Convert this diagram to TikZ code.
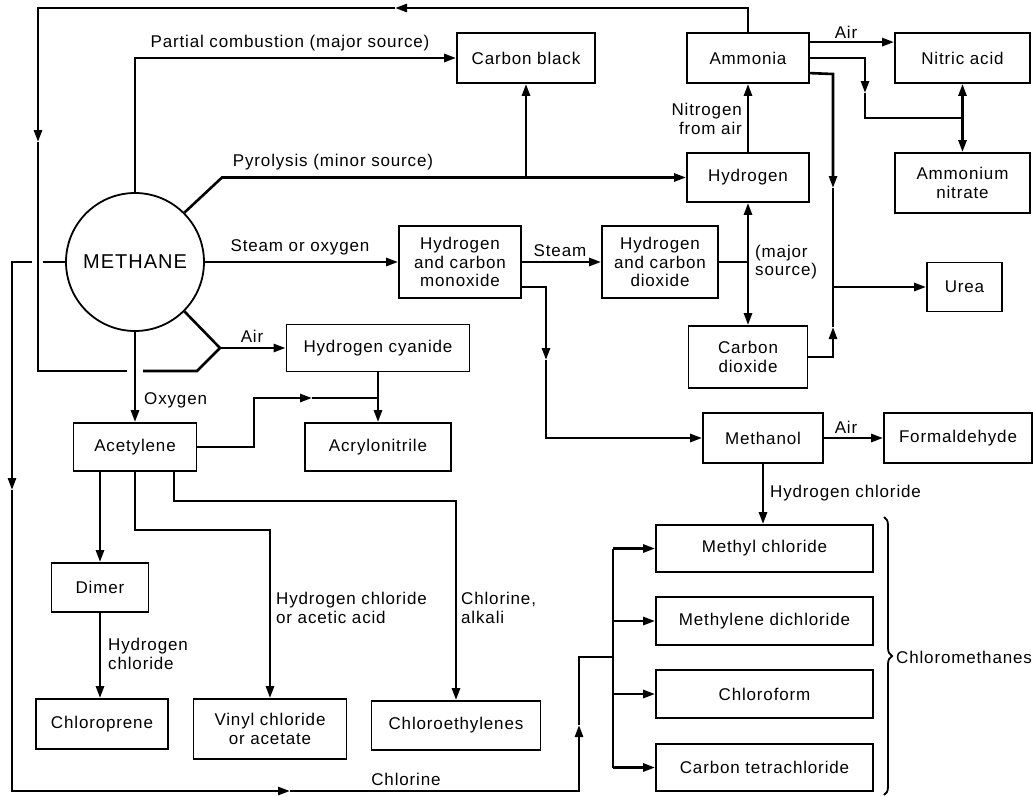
\documentclass[tikz,border=0pt]{standalone}
\usepackage{fontspec}
\setmainfont{Liberation Sans}[LetterSpace=5]
\usetikzlibrary{arrows.meta,decorations.pathreplacing,calc}
\begin{document}
\begin{tikzpicture}[x=1pt,y=-1pt,
  every node/.style={font=\fontsize{17}{18.5}\selectfont},
  box/.style={draw,line width=1.8pt,align=center,inner sep=0pt},
  ln/.style={line width=2.6pt},
  tip/.tip={Triangle[length=12pt,width=8pt]},
  arr/.style={ln,-tip},
  dbl/.style={ln,tip-tip},
  lbl/.style={align=left,inner sep=0pt}]
\useasboundingbox[fill=white] (0,0) rectangle (1033,796);

% ---------- nodes ----------
\node[draw,circle,line width=1.8pt,minimum size=138pt,inner sep=0pt,font=\fontsize{20}{22}\selectfont] (methane) at (135,262) {METHANE};
\node[box,minimum width=138pt,minimum height=50pt] (cb) at (526,58) {Carbon black};
\node[box,minimum width=122pt,minimum height=50pt] (amm) at (748,58) {Ammonia};
\node[box,minimum width=135pt,minimum height=50pt] (nit) at (962.5,58) {Nitric acid};
\node[box,minimum width=122pt,minimum height=49pt] (hyd) at (748,177.5) {Hydrogen};
\node[box,minimum width=135pt,minimum height=60pt] (an) at (962.5,183) {Ammonium\\nitrate};
\node[box,minimum width=122pt,minimum height=72pt] (hco) at (460,262) {Hydrogen\\and carbon\\monoxide};
\node[box,minimum width=116pt,minimum height=72pt] (hcd) at (660,262) {Hydrogen\\and carbon\\dioxide};
\node[box,minimum width=75pt,minimum height=49pt] (urea) at (964.5,287) {Urea};
\node[box,minimum width=119pt,minimum height=62pt] (co2) at (748,357) {Carbon\\dioxide};
\node[box,minimum width=183pt,minimum height=47pt] (hcn) at (378,348) {Hydrogen cyanide};
\node[box,minimum width=123pt,minimum height=48pt] (ace) at (135,447) {Acetylene};
\node[box,minimum width=146pt,minimum height=48pt] (acr) at (378,447) {Acrylonitrile};
\node[box,minimum width=120pt,minimum height=50pt] (meoh) at (763,438) {Methanol};
\node[box,minimum width=148pt,minimum height=50pt] (form) at (958,438) {Formaldehyde};
\node[box,minimum width=217pt,minimum height=47pt] (mecl) at (764.5,548.5) {Methyl chloride};
\node[box,minimum width=217pt,minimum height=48pt] (dcm) at (764.5,621) {Methylene dichloride};
\node[box,minimum width=217pt,minimum height=48pt] (chcl) at (764.5,694) {Chloroform};
\node[box,minimum width=217pt,minimum height=47pt] (ccl) at (764.5,767.5) {Carbon tetrachloride};
\node[box,minimum width=97pt,minimum height=49pt] (dimer) at (100,587.5) {Dimer};
\node[box,minimum width=132pt,minimum height=50pt] (cp) at (102,724) {Chloroprene};
\node[box,minimum width=153pt,minimum height=60pt] (vinyl) at (270,729) {Vinyl chloride\\or acetate};
\node[box,minimum width=169pt,minimum height=49pt] (ce) at (456,725.5) {Chloroethylenes};

% ---------- coordinates ----------
\coordinate (tA) at (748,8);
\coordinate (tArr) at (395,8);
\coordinate (tL) at (38,8);
\coordinate (lArr) at (38,142);
\coordinate (lB) at (38,371);
\coordinate (g1) at (127,371);
\coordinate (g2) at (143,371);
\coordinate (lC) at (197,371);
\coordinate (J) at (220,348);
\coordinate (py1) at (222,177.5);
\coordinate (ms) at (748,262);
\coordinate (n1) at (865,58);
\coordinate (n2) at (865,93);
\coordinate (n3) at (865,118);
\coordinate (u1) at (833,74);
\coordinate (u2) at (833,188);
\coordinate (u3) at (833,287);
\coordinate (u4) at (833,327);
\coordinate (u5) at (833,357);
\coordinate (m1) at (546,287);
\coordinate (m2) at (546,360);
\coordinate (m3) at (546,438);
\coordinate (bx) at (613,657);
\coordinate (c0) at (43,262);
\coordinate (c1) at (32,262);
\coordinate (c2) at (12,262);
\coordinate (c3) at (12,490);
\coordinate (c4) at (12,791);
\coordinate (c5) at (290,791);
\coordinate (c6) at (579,791);
\coordinate (c7) at (579,725);
\coordinate (c8) at (579,657);
\coordinate (a1) at (254,447);
\coordinate (a2) at (254,398);
\coordinate (a3) at (312,398);
\coordinate (v1) at (135,530);
\coordinate (e1) at (174,501);
\coordinate (br1) at (884,517);
\coordinate (br2) at (884,795);

% ---------- connectors ----------
% ammonia loop back to HCN
\draw[arr] (amm.north) -- (tA) -- (tArr);
\draw[arr] (tArr) -- (tL) -- (lArr);
\draw[ln] (lArr) -- (lB) -- (g1);
\draw[ln] (g2) -- (lC) -- (J);
\draw[ln] (methane.-45) -- (J);
\draw[arr] (J) -- (hcn.west);
\node[lbl] (airhcn) at (252,336) {Air};

% partial combustion
\draw[arr] (methane.north) -- (methane.north |- cb.west) -- (cb.west);
\node[lbl] (pclbl) at (290,43) {Partial combustion (major source)};

% pyrolysis
\draw[arr] (methane.45) -- (py1) -- (hyd.west);
\draw[arr] (cb.south |- hyd.west) -- (cb.south);
\node[lbl] (pylbl) at (333,162) {Pyrolysis (minor source)};

% steam or oxygen
\draw[arr] (methane.east) -- (hco.west);
\node[lbl] (solbl) at (300,247) {Steam or oxygen};
\draw[arr] (hco.east) -- (hcd.west);
\node[lbl] (stlbl) at (560,251) {Steam};
\draw[ln] (hcd.east) -- (ms);
\draw[dbl] (hyd.south) -- (co2.north);
\node[lbl,anchor=west] (majlbl) at (755,262) {(major\\source)};

% hydrogen -> ammonia
\draw[arr] (hyd.north) -- (amm.south);
\node[lbl,anchor=east,align=right] (nalbl) at (742,119) {Nitrogen\\from air};

% ammonia -> nitric acid
\draw[arr] ([yshift=-10pt]amm.north east) -- ([yshift=-10pt]nit.north west);
\node[lbl] (airnit) at (846,32) {Air};

% ammonia + nitric acid -> ammonium nitrate
\draw[arr] (amm.east) -- (n1) -- (n2);
\draw[ln] (n2) -- (n3) -- (nit.south |- n3);
\draw[arr] (nit.south |- n3) -- (nit.south);
\draw[arr] (nit.south |- n3) -- (an.north);

% ammonia + CO2 -> urea
\draw[arr] ([yshift=-41pt]amm.north east) -- (u1) -- (u2);
\draw[ln] (u2) -- (u3);
\draw[arr] (u3) -- (urea.west);
\draw[arr] (co2.east) -- (u5) -- (u4);
\draw[ln] (u4) -- (u3);

% synthesis gas -> methanol
\draw[arr] (hco.east |- m1) -- (m1) -- (m2);
\draw[arr] (m2) -- (m3) -- (meoh.west);
\draw[arr] (meoh.east) -- (form.west);
\node[lbl] (airform) at (846,427) {Air};
\draw[arr] (meoh.south) -- (meoh.south |- mecl.north);
\node[lbl,anchor=west] (hcllbl) at (770,493) {Hydrogen chloride};

% chloromethanes bus
\draw[ln] (bx |- mecl.west) -- (bx |- ccl.west);
\draw[arr] (bx |- mecl.west) -- (mecl.west);
\draw[arr] (bx |- dcm.west) -- (dcm.west);
\draw[arr] (bx |- chcl.west) -- (chcl.west);
\draw[arr] (bx |- ccl.west) -- (ccl.west);

% chlorine from methane
\draw[ln] (methane.west) -- (c0);
\draw[arr] (c1) -- (c2) -- (c3);
\draw[arr] (c3) -- (c4) -- (c5);
\draw[arr] (c5) -- (c6) -- (c7);
\draw[ln] (c7) -- (c8) -- (bx);
\node[lbl] (cllbl) at (406,779) {Chlorine};

% brace
\draw[line width=1.8pt,decorate,decoration={brace,amplitude=8pt}] (br1) -- (br2);
\node[lbl,anchor=west] (cmlbl) at (896,657) {Chloromethanes};

% acetylene
\draw[arr] (methane.south) -- (ace.north);
\node[lbl,anchor=west] (oxlbl) at (144,400) {Oxygen};
\draw[arr] (ace.east) -- (a1) -- (a2) -- (a3);
\draw[ln] (a3) -- (hcn.south |- a2);
\draw[arr] (hcn.south) -- (acr.north);

\draw[arr] (dimer.north |- ace.south) -- (dimer.north);
\draw[arr] (ace.south) -- (v1) -- (vinyl.north |- v1) -- (vinyl.north);
\draw[arr] (e1 |- ace.south) -- (e1) -- (ce.north |- e1) -- (ce.north);
\draw[arr] (dimer.south) -- (dimer.south |- cp.north);
\node[lbl,anchor=west] (dhlbl) at (108,654) {Hydrogen\\chloride};
\node[lbl,anchor=west] (valbl) at (276,608) {Hydrogen chloride\\or acetic acid};
\node[lbl,anchor=west] (calbl) at (461,608) {Chlorine,\\alkali};
\end{tikzpicture}
\end{document}
